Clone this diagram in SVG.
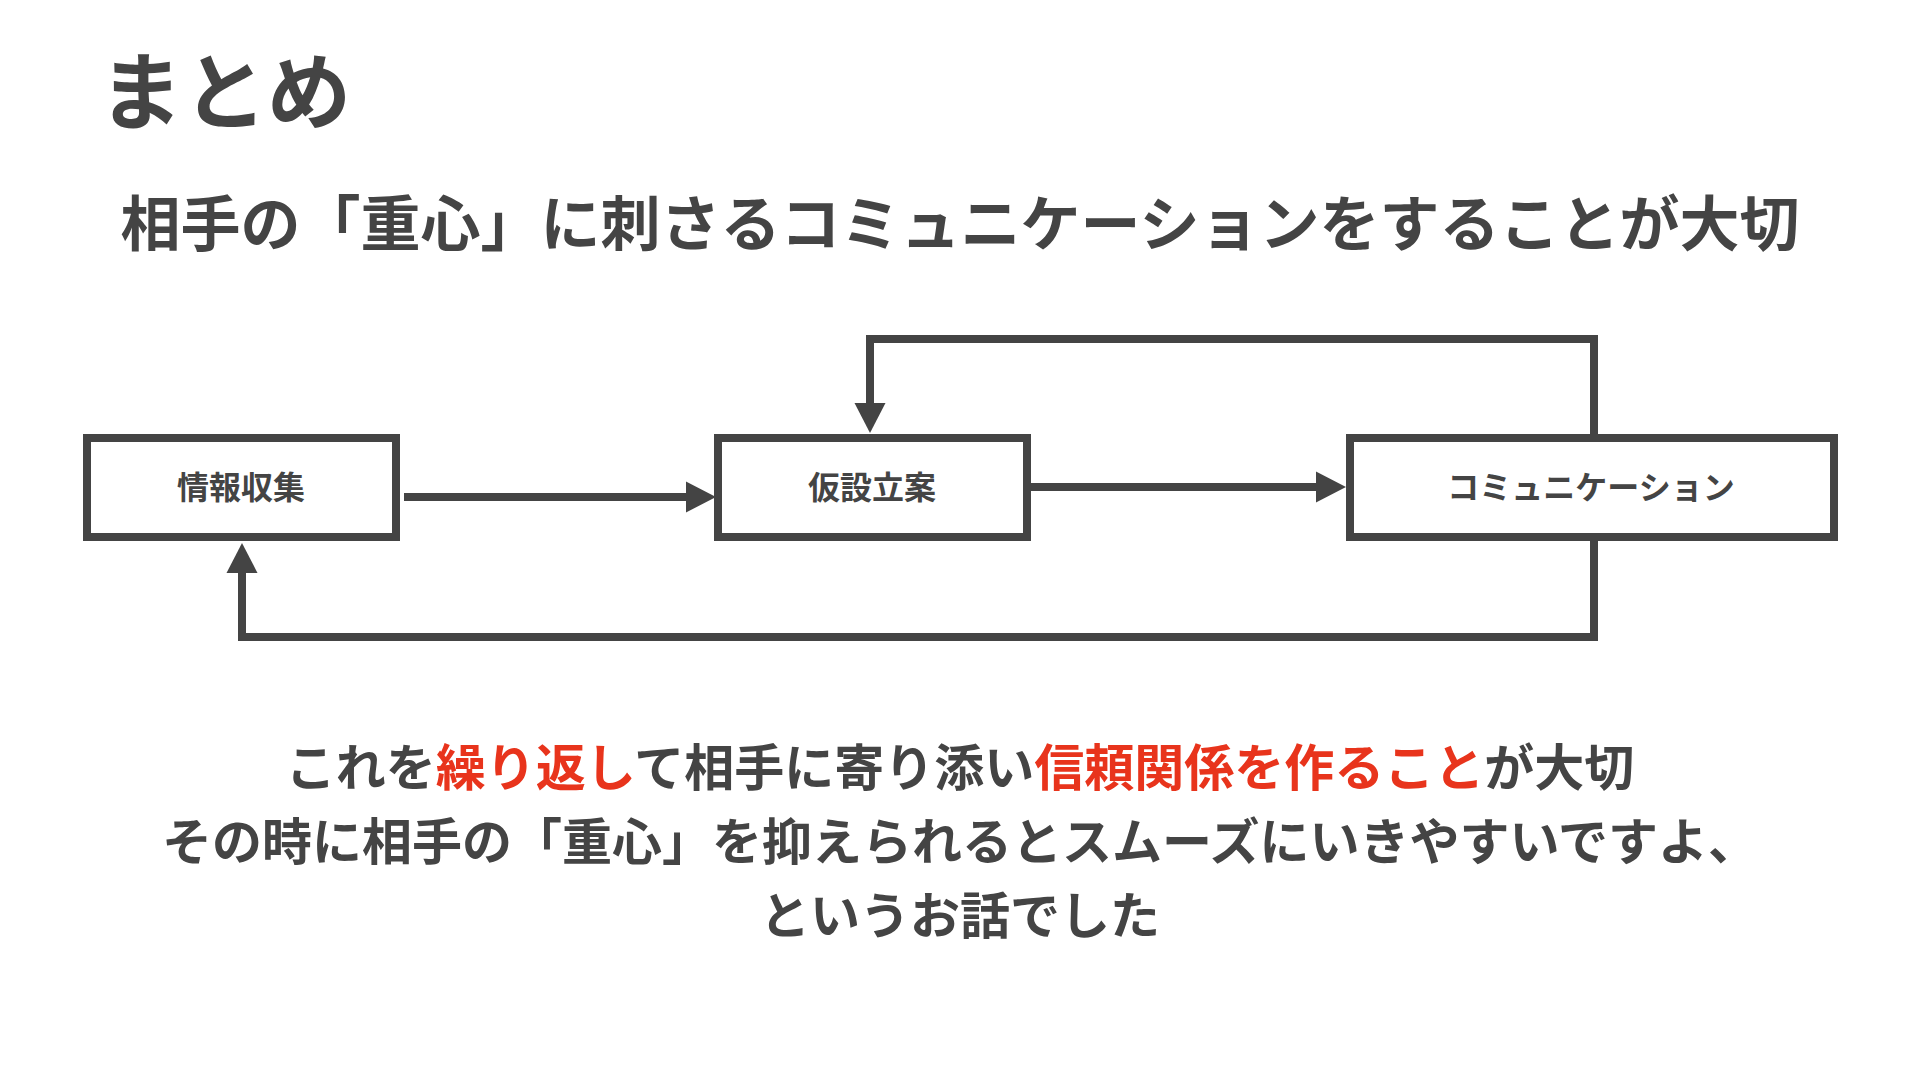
<svg xmlns="http://www.w3.org/2000/svg" width="1920" height="1080" viewBox="0 0 1920 1080">
<style>
text{font-family:"Noto Sans CJK JP","Noto Sans",sans-serif;font-weight:700;fill:#444444}
.node rect{fill:#ffffff;stroke:#444444;stroke-width:8}
.node text{font-size:32px;text-anchor:middle}
.conn{fill:none;stroke:#444444;stroke-width:8}
.red{fill:#e8341c}
.body{font-size:50px;text-anchor:middle}
</style>
<defs>
<marker id="ah" markerUnits="userSpaceOnUse" markerWidth="30" markerHeight="31" refX="0" refY="15.5" orient="auto" overflow="visible">
<path d="M0,0 L30,15.5 L0,31 Z" fill="#444444"/>
</marker>
</defs>
<rect width="1920" height="1080" fill="#ffffff"/>
<text x="99" y="123" font-size="84">まとめ</text>
<text x="960" y="246" font-size="60" text-anchor="middle">相手の「重心」に刺さるコミュニケーションをすることが大切</text>
<g id="connectors">
<line class="conn" x1="404" y1="497" x2="686" y2="497" marker-end="url(#ah)"/>
<line class="conn" x1="1029" y1="487" x2="1316" y2="487" marker-end="url(#ah)"/>
<polyline class="conn" points="1594,434 1594,339 870,339 870,403" marker-end="url(#ah)"/>
<polyline class="conn" points="1594,541 1594,637 242,637 242,573" marker-end="url(#ah)"/>
</g>
<g id="node-info" class="node">
<rect x="87" y="438" width="309" height="99"/>
<text x="241" y="499">情報収集</text>
</g>
<g id="node-hypothesis" class="node">
<rect x="718" y="438" width="309" height="99"/>
<text x="872" y="499">仮設立案</text>
</g>
<g id="node-communication" class="node">
<rect x="1350" y="438" width="484" height="99"/>
<text x="1591" y="499">コミュニケーション</text>
</g>
<text class="body" x="960" y="786">これを<tspan class="red">繰り返し</tspan>て相手に寄り添い<tspan class="red">信頼関係を作ること</tspan>が大切</text>
<text class="body" x="960" y="860">その時に相手の「重心」を抑えられるとスムーズにいきやすいですよ、</text>
<text class="body" x="960" y="934">というお話でした</text>
</svg>
